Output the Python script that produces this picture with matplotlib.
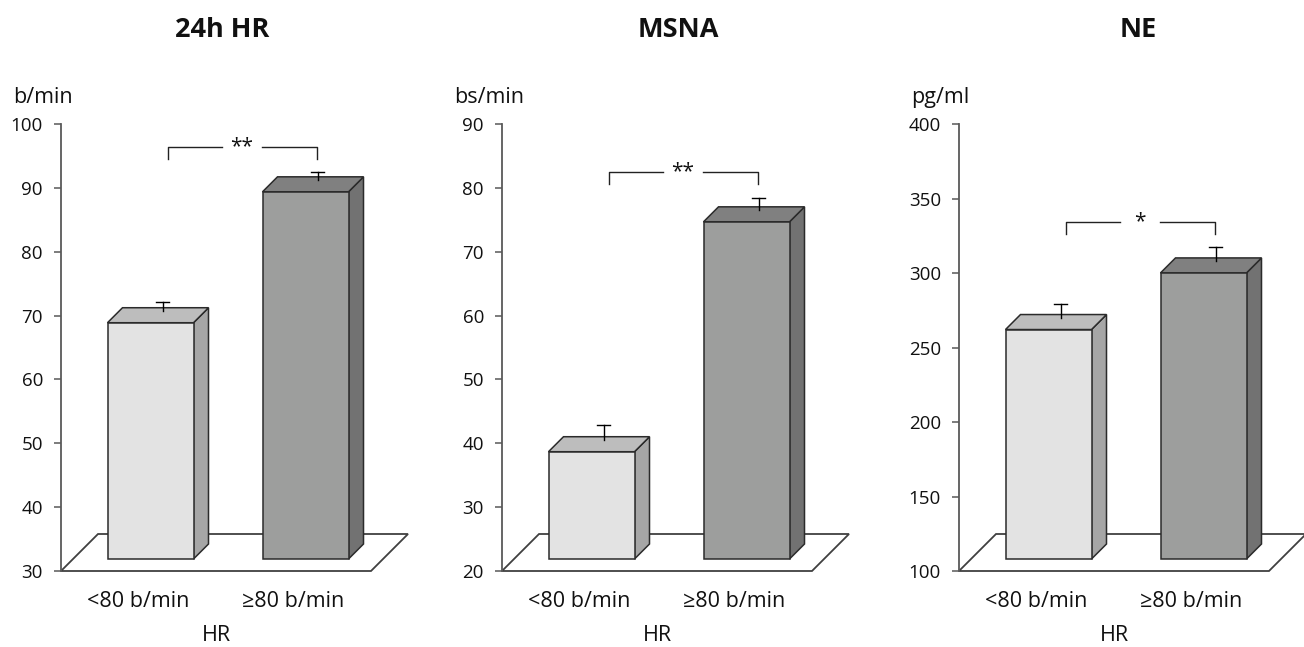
"""Three pseudo-3D bar panels (Excel style): 24h HR, MSNA and NE by HR group."""

import matplotlib

matplotlib.use("Agg")
import matplotlib.pyplot as plt
from matplotlib.patches import Polygon

plt.rcParams["font.family"] = ["Open Sans", "DejaVu Sans"]

TITLES = ["24h HR", "MSNA", "NE"]
UNITS = ["b/min", "bs/min", "pg/ml"]
GROUPS = ["<80 b/min", "\u226580 b/min"]
X_LABEL = "HR"

Y_MIN = [30, 20, 100]
Y_MAX = [100, 90, 400]
Y_STEP = [10, 10, 50]

HR_MEAN = [67.0, 87.5]
HR_ERR = [1.4, 1.3]
MSNA_MEAN = [36.8, 72.8]
MSNA_ERR = [2.3, 1.9]
NE_MEAN = [254.0, 292.0]
NE_ERR = [9.4, 9.4]

MEANS = [HR_MEAN, MSNA_MEAN, NE_MEAN]
ERRS = [HR_ERR, MSNA_ERR, NE_ERR]

SIG_LABEL = ["**", "**", "*"]
SIG_Y = [96.4, 82.5, 334.4]

# colours: (front, side, top) per group
FACE = [("#e3e3e3", "#a6a6a6", "#bdbdbd"), ("#9d9e9d", "#727272", "#808080")]
EDGE = "#2b2b2b"
FLOOR_EDGE = "#404040"
AXIS_INK = "#595959"
INK = "#111111"

# layout in pixels (figure is 1304 x 647 at dpi 100)
W, H = 1304, 647
AXIS_X = [61, 502, 959]
TITLE_DX = [161, 176, 179]
TOP_PX, BOTTOM_PX = 124, 571
FLOOR_W = 310      # front edge of the floor
DEPTH = 37         # floor depth (drawn at 45 degrees)
BAR_W = 86
BAR_D0 = 12        # bar starts this deep into the floor
BAR_D = 15         # bar depth
ERR_D = 12         # depth (inside the bar) where the error bar sits
CAP = 6.5


def poly(ax, pts, face, edge=EDGE, lw=1.1, z=3):
    ax.add_patch(Polygon(pts, closed=True, facecolor=face, edgecolor=edge,
                         linewidth=lw, joinstyle="miter", zorder=z, clip_on=False))


def fig_y(px):
    return 1 - px / H


fig = plt.figure(figsize=(W / 100, H / 100), dpi=100)
fig.patch.set_facecolor("white")

for p in range(3):
    ymin, ymax = Y_MIN[p], Y_MAX[p]
    height_px = BOTTOM_PX - TOP_PX
    s = height_px / (ymax - ymin)  # px per data unit
    width_px = FLOOR_W + DEPTH
    ax = fig.add_axes([AXIS_X[p] / W, fig_y(BOTTOM_PX), width_px / W, height_px / H])
    ax.set_xlim(0, width_px)
    ax.set_ylim(ymin, ymax)
    ax.patch.set_visible(False)
    for side in ("top", "right", "bottom"):
        ax.spines[side].set_visible(False)
    ax.spines["left"].set_color(AXIS_INK)
    ax.spines["left"].set_linewidth(1.3)
    ax.set_yticks(range(ymin, ymax + 1, Y_STEP[p]))
    ax.tick_params(axis="y", length=5, width=1.1, color=AXIS_INK, pad=8,
                   labelsize=13.5, labelcolor=INK)
    ax.set_xticks([])

    # floor
    dy = DEPTH / s
    poly(ax, [(0, ymin), (FLOOR_W, ymin), (FLOOR_W + DEPTH, ymin + dy), (DEPTH, ymin + dy)],
         "white", edge=FLOOR_EDGE, lw=1.3, z=1)

    centers = [FLOOR_W * (2 * i + 1) / 4 for i in range(2)]
    for c, g in zip(centers, GROUPS):
        fig.text((AXIS_X[p] + c) / W, fig_y(607), g, ha="center", va="baseline",
                 fontsize=15.5, color=INK)
    fig.text((AXIS_X[p] + FLOOR_W / 2) / W, fig_y(641), X_LABEL, ha="center",
             va="baseline", fontsize=15.5, color=INK)

    for i, (v, e) in enumerate(zip(MEANS[p], ERRS[p])):
        front, side_c, top_c = FACE[i]
        xl = centers[i] - BAR_W / 2 + BAR_D0
        xr = xl + BAR_W
        yb = ymin + BAR_D0 / s
        yt = v + BAR_D0 / s
        d, ddy = BAR_D, BAR_D / s
        poly(ax, [(xr, yb), (xr + d, yb + ddy), (xr + d, yt + ddy), (xr, yt)], side_c)
        poly(ax, [(xl, yt), (xr, yt), (xr + d, yt + ddy), (xl + d, yt + ddy)], top_c)
        poly(ax, [(xl, yb), (xr, yb), (xr, yt), (xl, yt)], front)

        ex = centers[i] + BAR_D0 + ERR_D
        ey = v + (BAR_D0 + ERR_D) / s
        ax.plot([ex, ex], [ey, ey + e], color="black", lw=1.0, zorder=5, clip_on=False)
        ax.plot([ex - CAP, ex + CAP], [ey + e, ey + e], color="black", lw=1.0,
                zorder=5, clip_on=False)

    # significance bracket
    bl = centers[0] + 29
    br = centers[1] + 23
    mid = (bl + br) / 2
    by = SIG_Y[p]
    drop = 12 / s
    ax.plot([bl, bl, mid - 20], [by - drop, by, by], color="#222222", lw=1.0, clip_on=False)
    ax.plot([mid + 20, br, br], [by, by, by - drop], color="#222222", lw=1.0, clip_on=False)
    ax.text(mid, by, SIG_LABEL[p], ha="center", va="center", fontsize=15, color=INK)

    # unit label and title
    fig.text((AXIS_X[p] - 48) / W, fig_y(103), UNITS[p], ha="left", va="baseline",
             fontsize=15.5, color=INK)
    fig.text((AXIS_X[p] + TITLE_DX[p]) / W, fig_y(37), TITLES[p], ha="center",
             va="baseline", fontsize=19.5, fontweight="bold", color=INK)

fig.savefig("out.png", dpi=100, facecolor="white")
